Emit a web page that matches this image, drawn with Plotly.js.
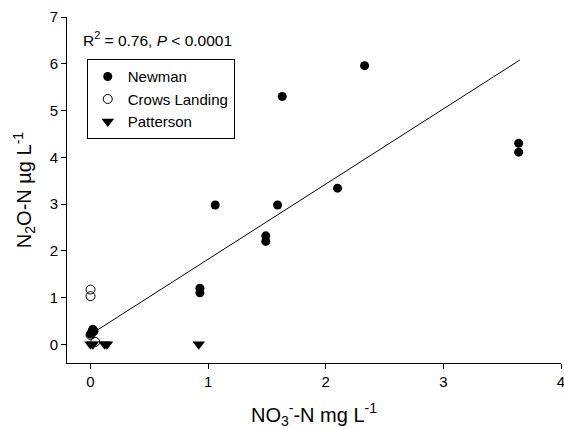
<!DOCTYPE html>
<html>
<head>
<meta charset="utf-8">
<script src="https://cdn.plot.ly/plotly-3.0.1.min.js"></script>
<style>html,body{margin:0;padding:0;background:#fff;}#chart{width:564px;height:429px;}</style>
</head>
<body>
<div id="chart"></div>
<script>
var newmanX = [2.33, 1.63, 3.64, 3.64, 1.06, 1.59, 2.10, 1.49, 1.49, 0.93, 0.93, 0.02, 0.0, 0.03, 0.01];
var newmanY = [5.96, 5.30, 4.30, 4.11, 2.98, 2.98, 3.34, 2.32, 2.20, 1.20, 1.10, 0.32, 0.22, 0.28, 0.25];
var crowsX = [0.0, 0.0, 0.04, 0.02, 0.0];
var crowsY = [1.17, 1.03, 0.05, 0.30, 0.20];
var pattersonX = [0.0, 0.02, 0.12, 0.14, 0.92];
var pattersonY = [0.0, 0.0, 0.0, 0.0, 0.0];
var fitX = [0.03, 3.65];
var fitY = [0.26, 6.08];

var traces = [
  {x: fitX, y: fitY, mode: 'lines', line: {color: '#000', width: 1}, showlegend: false, hoverinfo: 'skip'},
  {x: pattersonX, y: pattersonY, mode: 'markers', name: 'Patterson', marker: {symbol: 'triangle-down', size: 11, color: '#000'}},
  {x: crowsX, y: crowsY, mode: 'markers', name: 'Crows Landing', marker: {symbol: 'circle-open', size: 9, color: '#000', line: {width: 1, color: '#000'}}},
  {x: newmanX, y: newmanY, mode: 'markers', name: 'Newman', marker: {symbol: 'circle', size: 9, color: '#000'}}
];

var layout = {
  width: 564, height: 429,
  margin: {l: 67, r: 3, t: 17, b: 66},
  paper_bgcolor: '#fff', plot_bgcolor: '#fff',
  font: {family: 'Liberation Sans, Arial, sans-serif', color: '#000', size: 15},
  showlegend: true,
  legend: {
    x: 0.04, y: 0.878, xanchor: 'left', yanchor: 'top',
    bordercolor: '#000', borderwidth: 1, bgcolor: '#fff',
    font: {size: 15}, traceorder: 'reversed', tracegroupgap: 0,
    itemwidth: 30
  },
  xaxis: {
    range: [-0.2, 4], tickvals: [0, 1, 2, 3, 4], ticks: 'outside', ticklen: 5, tickcolor: '#000',
    showline: true, linecolor: '#000', linewidth: 1, showgrid: false, zeroline: false,
    tickfont: {size: 15}, ticklabeloverflow: 'allow',
    title: {text: 'NO<sub>3</sub><sup>-</sup>-N mg L<sup>-1</sup>', font: {size: 20}, standoff: 18}
  },
  yaxis: {
    range: [-0.4, 7], tickvals: [0, 1, 2, 3, 4, 5, 6, 7], ticks: 'outside', ticklen: 5, tickcolor: '#000',
    showline: true, linecolor: '#000', linewidth: 1, showgrid: false, zeroline: false,
    tickfont: {size: 15}, ticklabeloverflow: 'allow',
    title: {text: 'N<sub>2</sub>O-N µg L<sup>-1</sup>', font: {size: 20}, standoff: 12}
  },
  annotations: [{
    xref: 'paper', yref: 'paper', x: 0.028, y: 0.935, xanchor: 'left', yanchor: 'middle',
    text: 'R<sup>2</sup> = 0.76, <i>P</i> < 0.0001', showarrow: false, font: {size: 15.5}
  }]
};

Plotly.newPlot('chart', traces, layout, {staticPlot: true, displayModeBar: false});
</script>
</body>
</html>
